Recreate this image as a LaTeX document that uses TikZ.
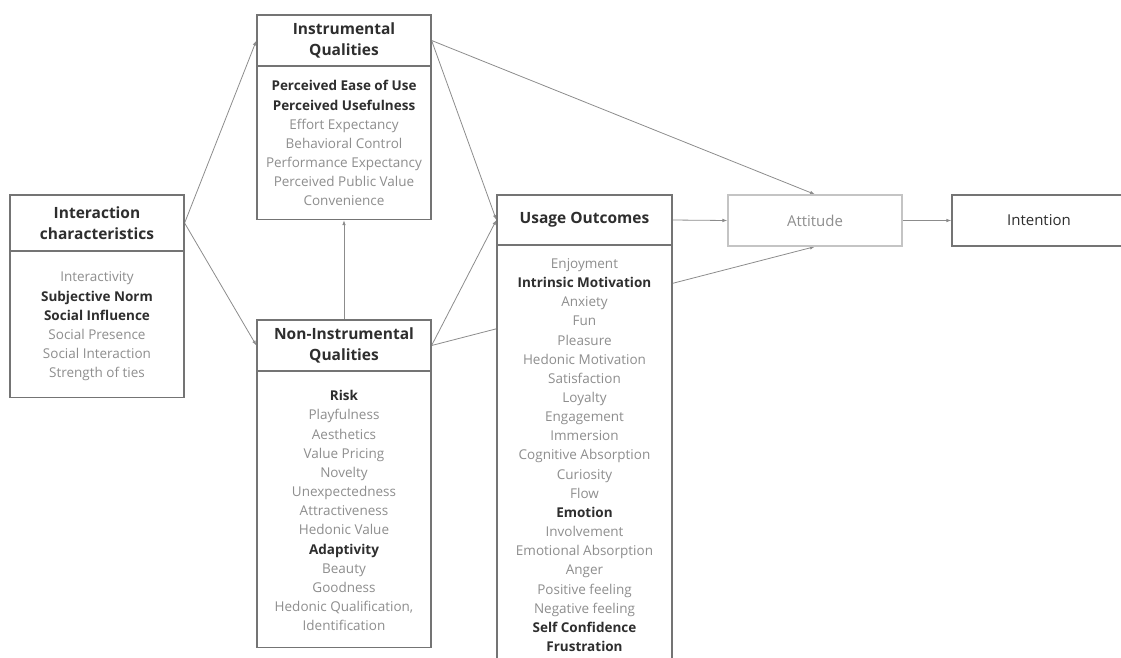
\documentclass[tikz,border=0pt]{standalone}
\usepackage{fontspec}
\setmainfont{Open Sans}
\usetikzlibrary{arrows.meta}
\definecolor{boxline}{HTML}{747474}
\definecolor{conn}{HTML}{8C8C8C}
\definecolor{itemgray}{HTML}{8E8E8E}
\definecolor{itemdark}{HTML}{2E2E2E}
\definecolor{attline}{HTML}{C4C4C4}
\newcommand{\gi}[1]{{\color{itemgray}#1}}
\newcommand{\bi}[1]{{\color{itemdark}\bfseries #1}}
\pgfdeclarelayer{bg}
\pgfsetlayers{bg,main}
\tikzset{
  x=1pt, y=-1pt,
  hdr/.style={draw=boxline, line width=1.2pt, fill=white, minimum width=174pt, inner sep=0pt,
    font=\fontsize{15.5}{22}\selectfont\bfseries, text=itemdark, align=center},
  bodybox/.style={draw=boxline, line width=1.2pt, fill=white, minimum width=174pt, inner sep=0pt,
    font=\fontsize{13.5}{19.15}\selectfont, align=center, anchor=north},
  itemlist/.style={font=\fontsize{13.5}{19.15}\selectfont, align=center, anchor=north},
  conn/.style={draw=conn, line width=0.8pt, -{Latex[length=5pt,width=3.6pt]}},
  plainbox/.style={draw=boxline, line width=1.2pt, fill=white, minimum width=174pt, minimum height=51pt,
    inner sep=0pt, font=\fontsize{15}{18}\selectfont}
}
\begin{document}
\begin{tikzpicture}
\useasboundingbox (0,0) rectangle (1121,657);
\clip (0,0) rectangle (1121,657);
% Interaction characteristics
\node[hdr, minimum height=56pt] (ih) at (97,223) {Interaction\\[-1pt]characteristics};
\node[bodybox, minimum height=146pt] (ib) at (97,251) {};
\node[itemlist] (ibt) at (97,268.5)
 {\gi{Interactivity}\\ \bi{Subjective Norm}\\ \bi{Social Influence}\\ \gi{Social Presence}\\ \gi{Social Interaction}\\ \gi{Strength of ties}};
% Instrumental Qualities
\node[hdr, minimum height=51pt] (iqh) at (344,40.5) {Instrumental\\[-1pt]Qualities};
\node[bodybox, minimum height=153pt] (iqb) at (344,66) {};
\node[itemlist] (iqbt) at (344,77)
 {\bi{Perceived Ease of Use}\\ \bi{Perceived Usefulness}\\ \gi{Effort Expectancy}\\ \gi{Behavioral Control}\\ \gi{Performance Expectancy}\\ \gi{Perceived Public Value}\\ \gi{Convenience}};
% Non-Instrumental Qualities
\node[hdr, minimum height=51pt] (niqh) at (344,345.5) {Non-Instrumental\\[-1pt]Qualities};
\node[bodybox, minimum height=276pt] (niqb) at (344,371) {};
\node[itemlist] (niqbt) at (344,387)
 {\bi{Risk}\\ \gi{Playfulness}\\ \gi{Aesthetics}\\ \gi{Value Pricing}\\ \gi{Novelty}\\ \gi{Unexpectedness}\\ \gi{Attractiveness}\\ \gi{Hedonic Value}\\ \bi{Adaptivity}\\ \gi{Beauty}\\ \gi{Goodness}\\ \gi{Hedonic Qualification,}\\ \gi{Identification}};
% Usage Outcomes
\node[hdr, minimum height=50pt, minimum width=175pt] (uoh) at (584.5,220) {Usage Outcomes};
\node[bodybox, minimum height=460pt, minimum width=175pt] (uob) at (584.5,245) {};
\node[itemlist] (uobt) at (584.5,255)
 {\gi{Enjoyment}\\ \bi{Intrinsic Motivation}\\ \gi{Anxiety}\\ \gi{Fun}\\ \gi{Pleasure}\\ \gi{Hedonic Motivation}\\ \gi{Satisfaction}\\ \gi{Loyalty}\\ \gi{Engagement}\\ \gi{Immersion}\\ \gi{Cognitive Absorption}\\ \gi{Curiosity}\\ \gi{Flow}\\ \bi{Emotion}\\ \gi{Involvement}\\ \gi{Emotional Absorption}\\ \gi{Anger}\\ \gi{Positive feeling}\\ \gi{Negative feeling}\\ \bi{Self Confidence}\\ \bi{Frustration}};
% Attitude, Intention
\node[plainbox, draw=attline, text=itemgray] (att) at (815,220.5) {Attitude};
\node[plainbox, text=itemdark] (int) at (1039,220.5) {Intention};
% connectors
\begin{pgfonlayer}{bg}
\draw[conn] (ih.east) -- (iqh.west);
\draw[conn] (ih.east) -- (niqh.west);
\draw[conn] (iqh.east) -- (att.north);
\draw[conn] (iqh.east) -- (uoh.west);
\draw[conn] (niqh.east) -- (uoh.west);
\draw[conn] (niqh.east) -- (att.south);
\draw[conn] (niqh.north) -- (iqb.south);
\draw[conn] (uoh.east) -- (att.west);
\draw[conn] (att.east) -- (int.west);
\end{pgfonlayer}
\end{tikzpicture}
\end{document}
